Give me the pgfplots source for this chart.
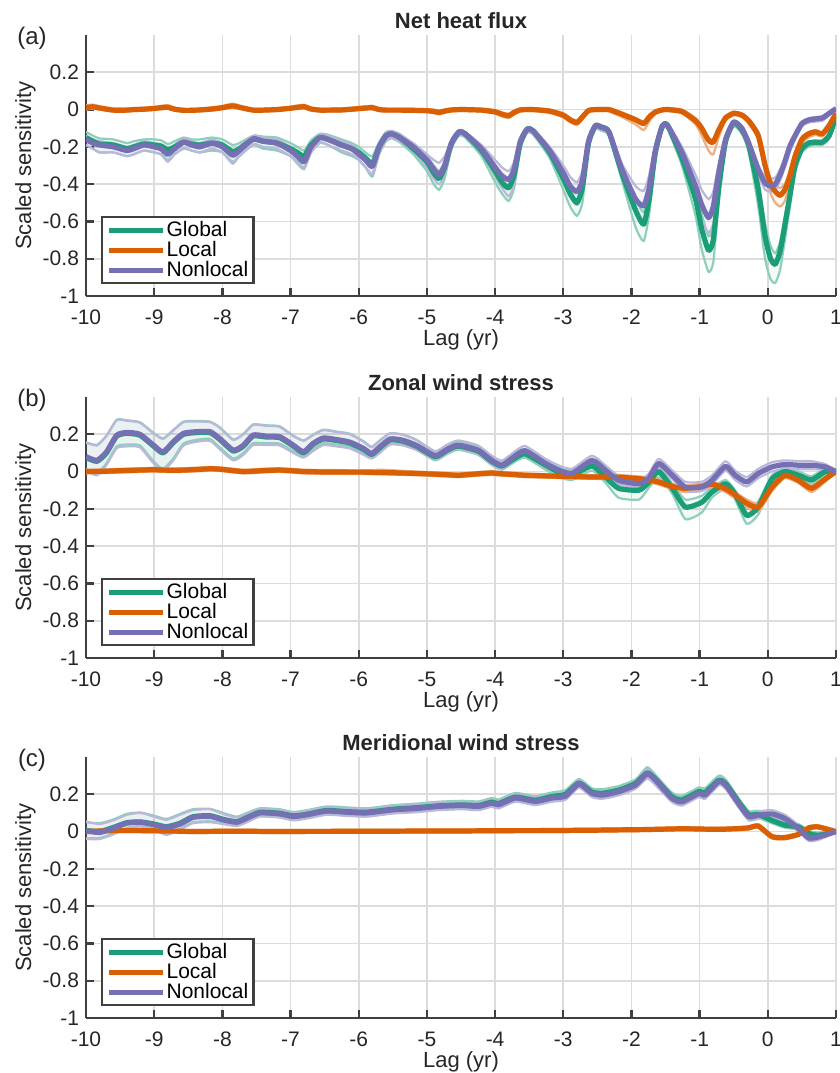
\documentclass[border=0pt]{standalone}
\usepackage{fontspec}
\setmainfont{Liberation Sans}
\usepackage{pgfplots}
\usepackage{pgfplotstable}
\pgfplotsset{compat=1.18}
\usepgfplotslibrary{fillbetween}

\definecolor{cG}{HTML}{1B9E77}
\definecolor{cL}{HTML}{D95F02}
\definecolor{cN}{HTML}{7570B3}
\definecolor{axgray}{HTML}{404040}
\definecolor{gridgray}{HTML}{DCDCDC}
\colorlet{lG}{cG!50}
\colorlet{lL}{cL!50}
\colorlet{lN}{cN!50}

% columns: lag, then mean / lower / upper for Nonlocal, Global, Local
\pgfplotstableread{
x N Nlo Nhi G Glo Ghi L Llo Lhi
-10.0 -0.16 -0.19 -0.14 -0.15 -0.19 -0.12 0.01 0.0 0.022
-9.9 -0.18 -0.21 -0.16 -0.17 -0.21 -0.14 0.015 0.005 0.027
-9.8 -0.19 -0.23 -0.17 -0.185 -0.23 -0.155 0.008 0.0 0.018
-9.6 -0.20 -0.23 -0.18 -0.19 -0.23 -0.16 -0.003 -0.01 0.006
-9.4 -0.22 -0.25 -0.20 -0.21 -0.25 -0.18 -0.003 -0.01 0.006
-9.3 -0.21 -0.24 -0.19 -0.20 -0.24 -0.17 0.0 -0.008 0.008
-9.15 -0.19 -0.22 -0.17 -0.185 -0.22 -0.16 0.002 -0.006 0.01
-9.0 -0.20 -0.23 -0.18 -0.19 -0.23 -0.16 0.006 -0.002 0.014
-8.9 -0.21 -0.24 -0.19 -0.195 -0.24 -0.165 0.01 0.002 0.02
-8.8 -0.24 -0.28 -0.22 -0.215 -0.27 -0.185 0.012 0.004 0.024
-8.7 -0.21 -0.24 -0.19 -0.20 -0.24 -0.17 0.002 -0.006 0.01
-8.57 -0.175 -0.205 -0.155 -0.175 -0.21 -0.15 -0.004 -0.012 0.004
-8.45 -0.19 -0.22 -0.17 -0.185 -0.22 -0.16 -0.004 -0.012 0.004
-8.33 -0.20 -0.23 -0.18 -0.19 -0.23 -0.16 -0.002 -0.01 0.006
-8.15 -0.18 -0.21 -0.16 -0.18 -0.22 -0.15 0.003 -0.005 0.012
-8.0 -0.20 -0.23 -0.18 -0.19 -0.23 -0.16 0.01 0.002 0.02
-7.85 -0.245 -0.29 -0.22 -0.225 -0.28 -0.19 0.02 0.01 0.032
-7.75 -0.22 -0.25 -0.20 -0.21 -0.25 -0.18 0.012 0.004 0.022
-7.55 -0.157 -0.185 -0.14 -0.16 -0.19 -0.14 -0.003 -0.01 0.005
-7.4 -0.17 -0.20 -0.15 -0.17 -0.21 -0.145 -0.003 -0.01 0.005
-7.2 -0.18 -0.21 -0.16 -0.18 -0.22 -0.15 0.0 -0.008 0.008
-7.0 -0.22 -0.25 -0.20 -0.21 -0.25 -0.18 0.007 0.0 0.016
-6.9 -0.25 -0.29 -0.23 -0.23 -0.28 -0.20 0.012 0.004 0.022
-6.8 -0.28 -0.32 -0.255 -0.25 -0.31 -0.22 0.015 0.006 0.026
-6.7 -0.20 -0.23 -0.18 -0.19 -0.23 -0.165 0.003 -0.005 0.011
-6.57 -0.15 -0.175 -0.135 -0.15 -0.18 -0.13 -0.003 -0.01 0.005
-6.45 -0.16 -0.19 -0.14 -0.16 -0.19 -0.135 -0.003 -0.01 0.005
-6.25 -0.19 -0.22 -0.17 -0.19 -0.23 -0.16 -0.002 -0.01 0.006
-6.1 -0.21 -0.24 -0.19 -0.21 -0.25 -0.18 0.002 -0.006 0.01
-6.0 -0.24 -0.27 -0.22 -0.23 -0.27 -0.20 0.005 -0.003 0.014
-5.9 -0.27 -0.31 -0.25 -0.26 -0.31 -0.23 0.008 0.0 0.018
-5.8 -0.305 -0.345 -0.28 -0.29 -0.36 -0.25 0.01 0.002 0.02
-5.7 -0.20 -0.23 -0.18 -0.20 -0.24 -0.175 0.0 -0.008 0.008
-5.6 -0.14 -0.165 -0.125 -0.14 -0.17 -0.12 -0.003 -0.01 0.005
-5.52 -0.13 -0.15 -0.115 -0.13 -0.155 -0.115 -0.003 -0.01 0.005
-5.4 -0.15 -0.17 -0.135 -0.15 -0.175 -0.13 -0.003 -0.01 0.005
-5.2 -0.20 -0.225 -0.18 -0.21 -0.24 -0.185 -0.004 -0.012 0.004
-5.0 -0.27 -0.31 -0.24 -0.28 -0.33 -0.25 -0.006 -0.014 0.002
-4.9 -0.32 -0.37 -0.27 -0.34 -0.40 -0.30 -0.01 -0.02 0.0
-4.82 -0.35 -0.40 -0.285 -0.37 -0.43 -0.33 -0.015 -0.026 -0.005
-4.74 -0.30 -0.35 -0.25 -0.31 -0.37 -0.28 -0.008 -0.018 0.0
-4.64 -0.18 -0.20 -0.165 -0.18 -0.21 -0.165 -0.002 -0.01 0.006
-4.53 -0.12 -0.135 -0.11 -0.12 -0.14 -0.11 0.0 -0.008 0.008
-4.44 -0.13 -0.145 -0.12 -0.13 -0.15 -0.12 0.0 -0.008 0.008
-4.2 -0.21 -0.23 -0.19 -0.22 -0.25 -0.20 -0.003 -0.011 0.005
-4.0 -0.31 -0.36 -0.27 -0.33 -0.39 -0.30 -0.012 -0.022 -0.003
-3.9 -0.355 -0.42 -0.31 -0.39 -0.45 -0.35 -0.025 -0.037 -0.015
-3.8 -0.375 -0.465 -0.33 -0.42 -0.49 -0.37 -0.033 -0.045 -0.022
-3.72 -0.32 -0.40 -0.28 -0.35 -0.42 -0.31 -0.015 -0.027 -0.005
-3.63 -0.17 -0.19 -0.155 -0.18 -0.21 -0.165 -0.002 -0.01 0.006
-3.53 -0.105 -0.12 -0.095 -0.105 -0.125 -0.095 0.0 -0.008 0.008
-3.44 -0.115 -0.13 -0.105 -0.115 -0.135 -0.105 0.0 -0.008 0.008
-3.2 -0.22 -0.24 -0.20 -0.23 -0.26 -0.21 -0.008 -0.018 0.0
-3.0 -0.34 -0.39 -0.30 -0.37 -0.43 -0.33 -0.03 -0.042 -0.02
-2.9 -0.41 -0.47 -0.36 -0.45 -0.52 -0.40 -0.055 -0.068 -0.045
-2.8 -0.44 -0.51 -0.39 -0.50 -0.57 -0.44 -0.07 -0.082 -0.058
-2.72 -0.38 -0.45 -0.33 -0.42 -0.50 -0.38 -0.04 -0.052 -0.03
-2.63 -0.17 -0.19 -0.155 -0.18 -0.21 -0.16 -0.005 -0.013 0.003
-2.53 -0.087 -0.10 -0.078 -0.087 -0.105 -0.078 0.0 -0.008 0.008
-2.44 -0.095 -0.11 -0.085 -0.095 -0.115 -0.085 0.0 -0.008 0.008
-2.33 -0.12 -0.135 -0.11 -0.12 -0.14 -0.11 0.0 -0.01 0.008
-2.14 -0.32 -0.35 -0.29 -0.34 -0.38 -0.31 -0.025 -0.04 -0.015
-1.94 -0.48 -0.55 -0.41 -0.54 -0.63 -0.48 -0.055 -0.08 -0.045
-1.82 -0.516 -0.60 -0.435 -0.615 -0.705 -0.55 -0.075 -0.11 -0.065
-1.74 -0.42 -0.50 -0.35 -0.48 -0.56 -0.42 -0.04 -0.065 -0.03
-1.65 -0.22 -0.25 -0.19 -0.23 -0.27 -0.20 -0.013 -0.025 -0.005
-1.55 -0.09 -0.105 -0.08 -0.09 -0.11 -0.08 -0.002 -0.01 0.006
-1.47 -0.085 -0.10 -0.075 -0.085 -0.105 -0.075 0.0 -0.008 0.008
-1.26 -0.23 -0.26 -0.20 -0.26 -0.30 -0.23 -0.01 -0.02 0.0
-1.06 -0.41 -0.47 -0.35 -0.48 -0.57 -0.42 -0.06 -0.08 -0.045
-0.97 -0.51 -0.59 -0.43 -0.64 -0.75 -0.56 -0.10 -0.14 -0.085
-0.87 -0.58 -0.66 -0.48 -0.755 -0.87 -0.68 -0.165 -0.22 -0.15
-0.8 -0.52 -0.61 -0.44 -0.70 -0.82 -0.62 -0.175 -0.24 -0.16
-0.72 -0.34 -0.40 -0.29 -0.42 -0.50 -0.36 -0.11 -0.15 -0.095
-0.62 -0.16 -0.18 -0.145 -0.17 -0.20 -0.15 -0.045 -0.06 -0.035
-0.5 -0.067 -0.08 -0.058 -0.07 -0.09 -0.06 -0.02 -0.03 -0.012
-0.38 -0.10 -0.115 -0.09 -0.11 -0.13 -0.10 -0.03 -0.04 -0.02
-0.28 -0.18 -0.20 -0.165 -0.19 -0.23 -0.17 -0.06 -0.075 -0.05
-0.14 -0.32 -0.35 -0.30 -0.43 -0.52 -0.38 -0.14 -0.16 -0.12
-0.04 -0.395 -0.43 -0.36 -0.68 -0.80 -0.61 -0.30 -0.33 -0.27
0.04 -0.41 -0.44 -0.37 -0.80 -0.91 -0.73 -0.40 -0.45 -0.37
0.11 -0.40 -0.43 -0.365 -0.83 -0.93 -0.77 -0.44 -0.50 -0.41
0.18 -0.35 -0.38 -0.32 -0.76 -0.86 -0.71 -0.46 -0.52 -0.42
0.25 -0.28 -0.31 -0.255 -0.62 -0.70 -0.57 -0.43 -0.49 -0.40
0.32 -0.20 -0.23 -0.18 -0.47 -0.53 -0.43 -0.36 -0.40 -0.33
0.4 -0.14 -0.16 -0.125 -0.30 -0.34 -0.27 -0.25 -0.28 -0.23
0.5 -0.075 -0.09 -0.065 -0.21 -0.23 -0.195 -0.16 -0.18 -0.145
0.6 -0.056 -0.07 -0.046 -0.18 -0.20 -0.17 -0.13 -0.15 -0.12
0.7 -0.05 -0.065 -0.04 -0.175 -0.19 -0.165 -0.12 -0.135 -0.11
0.8 -0.045 -0.06 -0.035 -0.175 -0.19 -0.165 -0.13 -0.145 -0.12
0.9 -0.02 -0.03 -0.012 -0.14 -0.155 -0.13 -0.085 -0.1 -0.075
1.0 0.005 0.0 0.01 -0.04 -0.05 -0.03 -0.02 -0.03 -0.012
}\tabA

\pgfplotstableread{
x N Nlo Nhi G Glo Ghi L Llo Lhi
-10.0 0.08 0.005 0.155 0.075 0.015 0.158 0.0 -0.01 0.01
-9.84 0.06 -0.02 0.14 0.055 -0.01 0.143 0.001 -0.009 0.011
-9.7 0.105 0.035 0.19 0.1 0.045 0.193 0.002 -0.008 0.012
-9.55 0.195 0.125 0.275 0.19 0.135 0.278 0.004 -0.006 0.014
-9.4 0.21 0.135 0.272 0.205 0.145 0.275 0.006 -0.004 0.016
-9.21 0.2 0.13 0.262 0.195 0.14 0.265 0.008 -0.002 0.018
-9.01 0.142 0.045 0.205 0.137 0.055 0.208 0.01 0.0 0.02
-8.87 0.105 0.005 0.175 0.1 0.015 0.178 0.008 -0.002 0.018
-8.72 0.16 0.06 0.22 0.155 0.07 0.223 0.007 -0.003 0.017
-8.57 0.205 0.14 0.265 0.2 0.15 0.268 0.008 -0.002 0.018
-8.38 0.214 0.16 0.268 0.209 0.17 0.271 0.011 0.001 0.021
-8.18 0.214 0.165 0.265 0.209 0.175 0.268 0.015 0.005 0.025
-8.04 0.178 0.12 0.235 0.173 0.13 0.238 0.013 0.003 0.023
-7.84 0.115 0.06 0.17 0.11 0.07 0.173 0.005 -0.005 0.015
-7.69 0.142 0.09 0.2 0.137 0.1 0.203 0.0 -0.01 0.01
-7.55 0.196 0.142 0.25 0.191 0.152 0.253 0.002 -0.008 0.012
-7.35 0.19 0.142 0.245 0.185 0.152 0.248 0.006 -0.004 0.016
-7.16 0.187 0.14 0.24 0.182 0.15 0.243 0.008 -0.002 0.018
-6.96 0.142 0.1 0.19 0.137 0.11 0.193 0.004 -0.006 0.014
-6.81 0.106 0.075 0.165 0.101 0.085 0.168 0.0 -0.01 0.01
-6.67 0.151 0.11 0.195 0.146 0.12 0.198 -0.001 -0.011 0.009
-6.52 0.18 0.142 0.222 0.175 0.152 0.225 -0.002 -0.012 0.008
-6.33 0.172 0.135 0.212 0.167 0.145 0.215 -0.002 -0.012 0.008
-6.13 0.158 0.124 0.2 0.153 0.134 0.203 -0.003 -0.013 0.007
-5.93 0.124 0.09 0.16 0.119 0.1 0.163 -0.003 -0.013 0.007
-5.81 0.097 0.07 0.13 0.092 0.078 0.133 -0.004 -0.014 0.008
-5.69 0.133 0.1 0.165 0.128 0.108 0.168 -0.005 -0.015 0.01
-5.54 0.175 0.145 0.205 0.17 0.15 0.205 -0.006 -0.016 0.008
-5.35 0.168 0.14 0.198 0.163 0.145 0.198 -0.008 -0.018 0.004
-5.15 0.14 0.115 0.17 0.135 0.118 0.168 -0.01 -0.02 0.0
-4.88 0.085 0.065 0.11 0.08 0.06 0.105 -0.014 -0.024 -0.004
-4.7 0.12 0.1 0.145 0.115 0.095 0.14 -0.017 -0.027 -0.007
-4.54 0.142 0.122 0.167 0.137 0.117 0.162 -0.02 -0.03 -0.01
-4.25 0.115 0.095 0.14 0.11 0.09 0.135 -0.012 -0.022 -0.002
-4.05 0.06 0.04 0.085 0.055 0.035 0.08 -0.008 -0.018 0.002
-3.9 0.034 0.014 0.059 0.03 0.01 0.055 -0.012 -0.022 -0.002
-3.72 0.08 0.06 0.105 0.07 0.05 0.095 -0.016 -0.026 -0.006
-3.56 0.112 0.092 0.137 0.095 0.075 0.12 -0.02 -0.03 -0.01
-3.26 0.043 0.023 0.068 0.035 0.01 0.06 -0.023 -0.033 -0.013
-3.06 0.007 -0.013 0.032 -0.005 -0.03 0.02 -0.025 -0.035 -0.015
-2.87 -0.01 -0.03 0.015 -0.02 -0.045 0.005 -0.027 -0.037 -0.017
-2.58 0.06 0.04 0.085 0.03 0.005 0.055 -0.029 -0.039 -0.019
-2.38 0.007 -0.013 0.032 -0.03 -0.06 -0.005 -0.029 -0.04 -0.018
-2.19 -0.047 -0.067 -0.022 -0.09 -0.14 -0.07 -0.03 -0.042 -0.018
-1.89 -0.065 -0.085 -0.04 -0.1 -0.15 -0.075 -0.038 -0.05 -0.026
-1.75 -0.038 -0.058 -0.013 -0.06 -0.09 -0.04 -0.045 -0.058 -0.032
-1.6 0.043 0.023 0.068 0.0 -0.03 0.02 -0.056 -0.07 -0.042
-1.4 -0.02 -0.04 0.005 -0.09 -0.12 -0.065 -0.08 -0.095 -0.065
-1.21 -0.083 -0.105 -0.055 -0.19 -0.255 -0.15 -0.09 -0.11 -0.075
-0.97 -0.083 -0.105 -0.055 -0.165 -0.22 -0.13 -0.08 -0.1 -0.065
-0.82 -0.047 -0.07 -0.02 -0.11 -0.14 -0.085 -0.068 -0.085 -0.055
-0.62 0.028 0.005 0.055 -0.065 -0.09 -0.045 -0.092 -0.11 -0.078
-0.48 -0.02 -0.045 0.005 -0.12 -0.15 -0.1 -0.125 -0.145 -0.11
-0.31 -0.056 -0.08 -0.03 -0.235 -0.28 -0.2 -0.17 -0.19 -0.15
-0.14 -0.01 -0.035 0.015 -0.19 -0.23 -0.16 -0.19 -0.215 -0.17
0.06 0.025 0.0 0.05 -0.04 -0.065 -0.02 -0.085 -0.105 -0.07
0.25 0.038 0.015 0.06 0.0 -0.02 0.02 -0.02 -0.035 -0.008
0.45 0.034 0.012 0.056 -0.02 -0.04 0.0 -0.047 -0.062 -0.035
0.64 0.034 0.012 0.056 -0.045 -0.065 -0.025 -0.09 -0.11 -0.078
0.84 0.025 0.01 0.04 0.0 -0.015 0.015 -0.04 -0.055 -0.028
1.0 0.0 -0.005 0.005 0.0 -0.005 0.005 0.0 -0.005 0.005
}\tabB

\pgfplotstableread{
x N Nlo Nhi G Glo Ghi L Llo Lhi
-10.0 0.004 -0.04 0.054 0.006 -0.035 0.05 0.0 -0.008 0.008
-9.8 -0.005 -0.04 0.04 0.0 -0.035 0.045 0.003 -0.005 0.011
-9.6 0.018 -0.015 0.06 0.022 -0.01 0.065 0.005 -0.003 0.013
-9.4 0.045 0.015 0.09 0.048 0.02 0.095 0.005 -0.003 0.013
-9.2 0.05 0.027 0.1 0.052 0.03 0.102 0.005 -0.003 0.013
-9.0 0.036 0.01 0.08 0.04 0.015 0.085 0.004 -0.004 0.012
-8.82 0.022 -0.018 0.063 0.026 -0.01 0.068 0.003 -0.005 0.011
-8.62 0.04 0.01 0.09 0.045 0.015 0.095 0.002 -0.006 0.01
-8.43 0.076 0.045 0.115 0.08 0.05 0.12 0.0 -0.008 0.008
-8.18 0.081 0.05 0.12 0.085 0.055 0.122 0.001 -0.007 0.009
-7.99 0.063 0.04 0.095 0.066 0.045 0.1 0.002 -0.006 0.01
-7.79 0.05 0.03 0.075 0.053 0.035 0.08 0.002 -0.006 0.01
-7.64 0.072 0.05 0.095 0.075 0.055 0.1 0.002 -0.006 0.01
-7.45 0.1 0.08 0.12 0.103 0.083 0.125 0.001 -0.007 0.009
-7.16 0.095 0.075 0.115 0.098 0.078 0.12 0.0 -0.008 0.008
-6.96 0.081 0.06 0.1 0.084 0.064 0.105 0.0 -0.008 0.008
-6.76 0.09 0.07 0.11 0.093 0.073 0.115 0.001 -0.007 0.009
-6.47 0.11 0.09 0.13 0.113 0.093 0.135 0.001 -0.007 0.009
-6.18 0.104 0.084 0.124 0.107 0.087 0.13 0.002 -0.006 0.01
-5.88 0.1 0.08 0.12 0.104 0.084 0.125 0.002 -0.006 0.01
-5.49 0.117 0.097 0.137 0.12 0.1 0.142 0.002 -0.006 0.01
-5.15 0.124 0.104 0.144 0.128 0.108 0.15 0.003 -0.005 0.011
-4.83 0.135 0.115 0.155 0.138 0.118 0.16 0.003 -0.005 0.011
-4.49 0.14 0.12 0.16 0.143 0.123 0.165 0.003 -0.005 0.011
-4.24 0.135 0.115 0.155 0.14 0.12 0.162 0.004 -0.004 0.012
-4.05 0.153 0.133 0.173 0.158 0.138 0.18 0.004 -0.004 0.012
-3.95 0.144 0.124 0.164 0.15 0.13 0.172 0.004 -0.004 0.012
-3.7 0.18 0.16 0.2 0.185 0.165 0.207 0.005 -0.003 0.013
-3.41 0.162 0.142 0.182 0.168 0.148 0.19 0.005 -0.003 0.013
-3.17 0.18 0.16 0.2 0.188 0.168 0.21 0.006 -0.002 0.014
-2.97 0.19 0.17 0.21 0.2 0.18 0.222 0.006 -0.002 0.014
-2.77 0.255 0.235 0.275 0.26 0.24 0.282 0.007 -0.001 0.015
-2.58 0.205 0.185 0.225 0.212 0.192 0.232 0.007 -0.001 0.015
-2.43 0.196 0.176 0.216 0.205 0.185 0.227 0.008 0.0 0.016
-2.19 0.214 0.194 0.234 0.222 0.202 0.244 0.009 0.001 0.017
-1.94 0.25 0.23 0.27 0.258 0.238 0.28 0.01 0.002 0.018
-1.77 0.31 0.285 0.335 0.315 0.29 0.345 0.011 0.003 0.019
-1.65 0.277 0.25 0.3 0.283 0.26 0.305 0.012 0.004 0.02
-1.41 0.18 0.16 0.2 0.188 0.168 0.21 0.014 0.006 0.022
-1.26 0.16 0.14 0.18 0.17 0.15 0.192 0.015 0.007 0.023
-1.01 0.205 0.185 0.225 0.215 0.195 0.237 0.014 0.006 0.022
-0.92 0.196 0.176 0.216 0.21 0.19 0.232 0.013 0.005 0.021
-0.72 0.268 0.248 0.29 0.275 0.255 0.3 0.012 0.004 0.02
-0.62 0.25 0.23 0.272 0.258 0.238 0.28 0.013 0.005 0.021
-0.43 0.151 0.13 0.17 0.16 0.14 0.18 0.016 0.008 0.024
-0.28 0.08 0.06 0.1 0.09 0.07 0.11 0.02 0.012 0.028
-0.14 0.088 0.068 0.108 0.092 0.072 0.112 0.03 0.022 0.038
0.06 0.095 0.075 0.115 0.06 0.045 0.08 -0.027 -0.037 -0.019
0.25 0.07 0.05 0.09 0.035 0.02 0.05 -0.032 -0.042 -0.024
0.45 0.016 0.0 0.035 0.025 0.01 0.04 -0.015 -0.023 -0.007
0.6 -0.034 -0.05 -0.02 -0.01 -0.025 0.005 0.02 0.012 0.028
0.74 -0.029 -0.045 -0.015 -0.02 -0.035 -0.005 0.025 0.017 0.033
1.0 0.0 -0.005 0.005 0.0 -0.005 0.005 0.0 -0.005 0.005
}\tabC

\pgfplotsset{
  panel/.style={
    scale only axis, width=375pt, height=130.5pt,
    xmin=-10, xmax=1, ymin=-1, ymax=0.4,
    xtick={-10,-9,-8,-7,-6,-5,-4,-3,-2,-1,0,1},
    ytick={-1,-0.8,-0.6,-0.4,-0.2,0,0.2},
    axis lines=left,
    axis line style={-, draw=axgray, line width=1.2pt},
    tick align=inside, major tick length=4pt,
    tick style={draw=axgray, line width=1.2pt},
    grid=major, major grid style={draw=gridgray, line width=0.8pt},
    /pgf/number format/assume math mode=true,
    ticklabel style={font=\fontsize{10.5}{12}\selectfont, text=black!85},
    xticklabel style={yshift=-3.5pt},
    xlabel={Lag (yr)}, ylabel={Scaled sensitivity},
    label style={font=\fontsize{11}{13}\selectfont, text=black!85},
    xlabel style={at={(axis description cs:0.5,-0.189)}, anchor=base},
    ylabel style={at={(axis description cs:-0.0733,0.5)}, anchor=base},
    title style={at={(axis description cs:0.5,1.0295)}, anchor=base, yshift=-6.5pt,
      font=\fontsize{11}{13}\selectfont\bfseries, text=black!85},
    legend style={at={(0.02,0.3065)}, anchor=north west,
      draw=axgray, line width=1.2pt, fill=white,
      font=\fontsize{10.5}{12}\selectfont,
      inner xsep=2.2pt, inner ysep=1.5pt, row sep=0pt,
      nodes={inner sep=0.4pt, text height=7.6pt, text depth=1.6pt}},
    legend cell align=left,
    legend image code/.code={\draw[#1] (0pt,0pt) -- (27pt,0pt);},
  },
  lite/.style={line width=1.1pt, forget plot, smooth, tension=0.35},
  mean/.style={line width=2.6pt, smooth, tension=0.35, line join=round},
}

\newcommand{\panelplots}[2]{%
  \addplot[lite, lG, name path=#2Glo] table[x=x, y=Glo]{#1};
  \addplot[lite, lG, name path=#2Ghi] table[x=x, y=Ghi]{#1};
  \addplot[fill=cG, fill opacity=0.06, draw=none, forget plot] fill between[of=#2Glo and #2Ghi];
  \addplot[lite, lL, name path=#2Llo] table[x=x, y=Llo]{#1};
  \addplot[lite, lL, name path=#2Lhi] table[x=x, y=Lhi]{#1};
  \addplot[fill=cL, fill opacity=0.06, draw=none, forget plot] fill between[of=#2Llo and #2Lhi];
  \addplot[lite, lN, name path=#2Nlo] table[x=x, y=Nlo]{#1};
  \addplot[lite, lN, name path=#2Nhi] table[x=x, y=Nhi]{#1};
  \addplot[fill=cN, fill opacity=0.06, draw=none, forget plot] fill between[of=#2Nlo and #2Nhi];
  \addplot[mean, cG] table[x=x, y=G]{#1};
  \addlegendentry{Global}
  \addplot[mean, cL] table[x=x, y=L]{#1};
  \addlegendentry{Local}
  \addplot[mean, cN] table[x=x, y=N]{#1};
  \addlegendentry{Nonlocal}
}

\begin{document}
\begin{tikzpicture}
\begin{axis}[panel, at={(43pt,388.5pt)}, anchor=south west, title={Net heat flux}]
\panelplots{\tabA}{pa}
\end{axis}
\begin{axis}[panel, at={(43pt,207.5pt)}, anchor=south west, title={Zonal wind stress}]
\panelplots{\tabB}{pb}
\end{axis}
\begin{axis}[panel, at={(43pt,27.5pt)}, anchor=south west, title={Meridional wind stress}]
\panelplots{\tabC}{pc}
\end{axis}
\node[font=\fontsize{12}{14}\selectfont, text=black!85] at (16pt,517.5pt) {(a)};
\node[font=\fontsize{12}{14}\selectfont, text=black!85] at (16pt,336.5pt) {(b)};
\node[font=\fontsize{12}{14}\selectfont, text=black!85] at (16pt,156.5pt) {(c)};
\pgfresetboundingbox
\path[use as bounding box] (0pt,0pt) rectangle (420pt,536.5pt);
\end{tikzpicture}
\end{document}
